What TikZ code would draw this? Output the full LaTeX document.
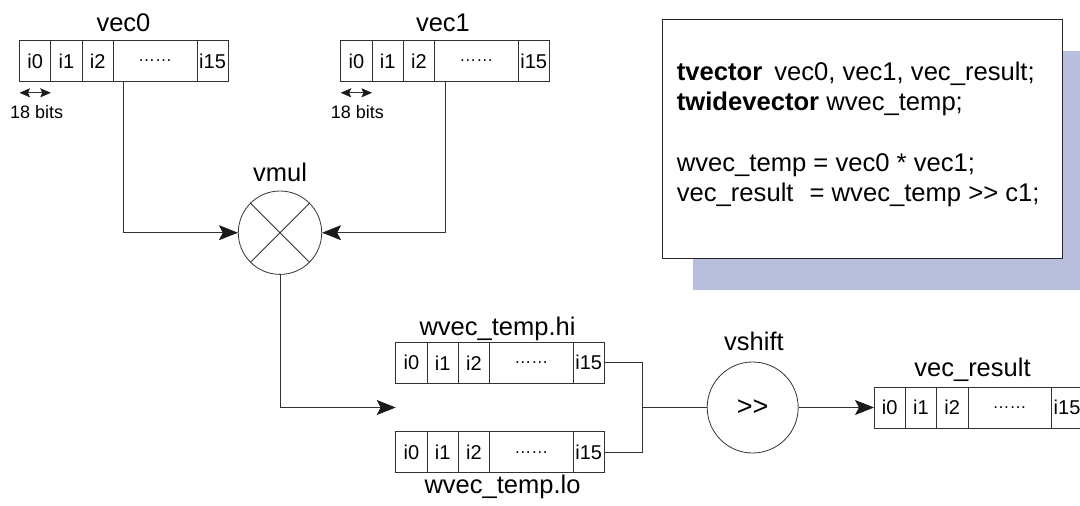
\documentclass[tikz,border=0pt]{standalone}
\usepackage{fontspec}
\setmainfont{Liberation Sans}
\usetikzlibrary{arrows.meta,calc,shadows}

\definecolor{wirec}{HTML}{333333}
\definecolor{tipc}{HTML}{1A1A1A}
\definecolor{shadowc}{HTML}{B8BEDC}

% one register row: cells i0, i1, i2, ......, i15 (name, x, y of north west corner)
\newcommand\vecrow[3]{%
  \node[cell, minimum width=31.3pt, anchor=north west] (#1-0) at (#2,#3) {i0};
  \node[cell, minimum width=31.3pt, anchor=west] (#1-1) at (#1-0.east) {i1};
  \node[cell, minimum width=31.3pt, anchor=west] (#1-2) at (#1-1.east) {i2};
  \node[cell, minimum width=83.5pt, anchor=west, font=\fontsize{17}{20}\selectfont] (#1-3) at (#1-2.east) {……};
  \node[cell, minimum width=31.3pt, anchor=west] (#1-4) at (#1-3.east) {i15};
}

\tikzset{
  cell/.style={draw=wirec, line width=0.8pt, minimum height=41pt, inner sep=0pt,
    outer sep=0pt, font=\fontsize{20}{24}\selectfont},
  lbl/.style={inner sep=0pt, font=\fontsize{25.5}{30}\selectfont},
  bits/.style={inner sep=0pt, font=\fontsize{18}{22}\selectfont},
  wire/.style={draw=wirec, line width=0.8pt},
  op/.style={circle, draw=wirec, line width=0.8pt, inner sep=0pt},
  bigtip/.style={-{Stealth[length=19pt, width=15pt, inset=4pt, fill=tipc, color=tipc]}},
  smalltip/.style={{Stealth[length=10.5pt, width=9pt, inset=2pt, fill=tipc, color=tipc]}-{Stealth[length=10.5pt, width=9pt, inset=2pt, fill=tipc, color=tipc]}},
}

\begin{document}
\begin{tikzpicture}[x=1pt, y=-1pt]
\useasboundingbox (0,0) rectangle (1080,506);

% code panel with its shadow
\node[draw=black!85, line width=0.8pt, fill=white, minimum width=399.4pt, minimum height=239pt,
  anchor=north west, inner sep=0pt,
  drop shadow={shadow xshift=30.4pt, shadow yshift=-31.7pt, fill=shadowc, opacity=1}]
  (code) at (662.3,19.3) {};
\node[anchor=base west, inner sep=0pt] (codetext) at (676.7,80) {\parbox[t]{385pt}{%
  \fontsize{25.6}{30.5}\selectfont
  \textbf{tvector}\hspace{5pt} vec0, vec1, vec\_result;\\
  \textbf{twidevector} wvec\_temp;\\[30.5pt]
  wvec\_temp = vec0 * vec1;\\
  vec\_result\hspace{9pt} = wvec\_temp >{}> c1;}};

% input vectors
\vecrow{vec0}{19.5}{40.5}
\vecrow{vec1}{340.7}{40.5}
\node[lbl, anchor=base] (lvec0) at (123.5,31.7) {vec0};
\node[lbl, anchor=base] (lvec1) at (443,31.7) {vec1};

% element width markers
\draw[wire, smalltip] ([yshift=-11.3pt]vec0-0.south west) -- ([yshift=-11.3pt]vec0-0.south east);
\draw[wire, smalltip] ([yshift=-11.3pt]vec1-0.south west) -- ([yshift=-11.3pt]vec1-0.south east);
\node[bits, anchor=base] (bits0) at (36.7,118.3) {18 bits};
\node[bits, anchor=base] (bits1) at (357.5,118.3) {18 bits};

% multiplier
\node[op, minimum size=83.4pt] (vmul) at (280,232.7) {};
\draw[wire] (vmul.north west) -- (vmul.south east) (vmul.north east) -- (vmul.south west);
\node[lbl, anchor=base] (lvmul) at (280,181.7) {vmul};

% wide temporary: hi and lo halves
\vecrow{hi}{395.7}{342.3}
\vecrow{lo}{395.7}{431.7}
\node[lbl, anchor=base] (lhi) at (497.5,335) {wvec\_temp.hi};
\node[lbl, anchor=base] (llo) at (502.5,493.3) {wvec\_temp.lo};
\coordinate (wtip) at ($(hi-0.south west)!0.5!(lo-0.north west)$);

% shifter
\node[op, minimum size=91pt, font=\fontsize{27}{32}\selectfont] (vshift) at (752.7,407.5) {>{}>};
\node[lbl, anchor=base] (lvshift) at (754,350) {vshift};

% result vector
\vecrow{res}{874}{387}
\node[lbl, anchor=base] (lres) at (972.5,376) {vec\_result};

% connectors
\draw[wire, bigtip] ([xshift=10pt]vec0-3.south west) |- (vmul.west);
\draw[wire, bigtip] ([xshift=10.4pt]vec1-3.south west) |- (vmul.east);
\draw[wire, bigtip] (vmul.south) |- (wtip);
\coordinate (join) at ($(hi-4.east)!0.5!(lo-4.east)+(38.4,0)$);
\draw[wire] (hi-4.east) -| (join) |- (lo-4.east);
\draw[wire] (join) -- (vshift.west);
\draw[wire, bigtip] (vshift.east) -- (res-0.west);
\end{tikzpicture}
\end{document}
